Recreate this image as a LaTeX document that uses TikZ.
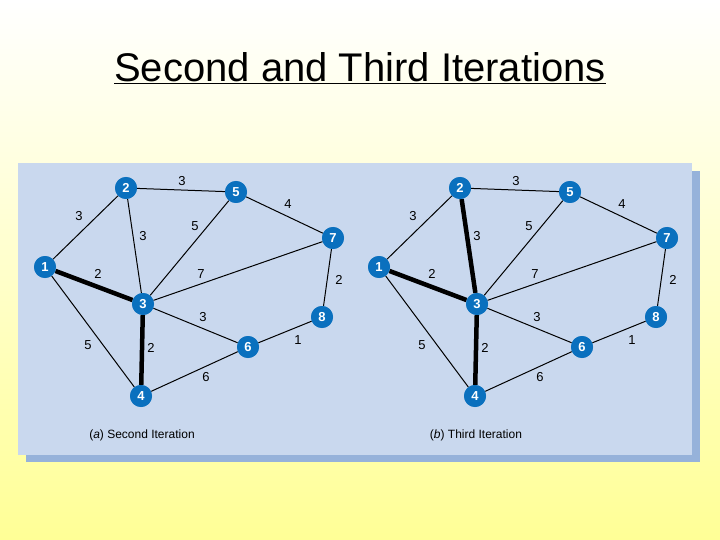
\documentclass[tikz,border=0pt]{standalone}
\usepackage{fontspec}
\setmainfont{Liberation Sans}
\definecolor{nodeblue}{RGB}{10,112,190}
\definecolor{panel}{RGB}{201,216,238}
\definecolor{shadowc}{RGB}{150,178,218}
\begin{document}
\begin{tikzpicture}[x=1pt,y=-1pt,
  vtx/.style={circle,fill=nodeblue,draw=none,minimum size=22pt,inner sep=0pt,text=white,font=\fontsize{13}{13}\selectfont\bfseries},
  edge/.style={line width=1pt},
  heavy/.style={line width=4.5pt},
  wlab/.style={font=\fontsize{13}{13}\selectfont}]
\shade[top color=white,bottom color={rgb,255:red,255;green,255;blue,150}] (0,0) rectangle (720,540);
\useasboundingbox (0,0) rectangle (720,540);
\node[font=\fontsize{40}{40}\selectfont] (title) at (360,68) {\underline{Second and Third Iterations}};
\fill[shadowc] (26,171) rectangle (700,462);
\fill[panel] (18,163) rectangle (692,455);
\foreach \dx/\pre/\cap in {0/a/{(\textit{a}) Second Iteration},334/b/{(\textit{b}) Third Iteration}}{
\begin{scope}[xshift=\dx]
\node[vtx] (\pre1) at (45,267) {1};
\node[vtx] (\pre2) at (126,188) {2};
\node[vtx] (\pre5) at (236,192) {5};
\node[vtx] (\pre7) at (333,238) {7};
\node[vtx] (\pre3) at (143,304) {3};
\node[vtx] (\pre8) at (322,317) {8};
\node[vtx] (\pre6) at (248,347) {6};
\node[vtx] (\pre4) at (141,396) {4};
\node[wlab] (\pre l12) at (79,216) {3};
\node[wlab] (\pre l25) at (182,181) {3};
\node[wlab] (\pre l23) at (143,236) {3};
\node[wlab] (\pre l35) at (195,226) {5};
\node[wlab] (\pre l57) at (288,204) {4};
\node[wlab] (\pre l13) at (98,274) {2};
\node[wlab] (\pre l37) at (201,274) {7};
\node[wlab] (\pre l78) at (339,280) {2};
\node[wlab] (\pre l36) at (203,317) {3};
\node[wlab] (\pre l14) at (88,345) {5};
\node[wlab] (\pre l34) at (151,348) {2};
\node[wlab] (\pre l68) at (298,340) {1};
\node[wlab] (\pre l46) at (206,377) {6};
\node[font=\fontsize{12}{12}\selectfont] (\pre cap) at (142,435) {\cap};
\end{scope}}
\foreach \p in {a,b}{
\draw[edge] (\p1) -- (\p2); \draw[edge] (\p2) -- (\p5); \draw[edge] (\p3) -- (\p5);
\draw[edge] (\p5) -- (\p7); \draw[edge] (\p3) -- (\p7); \draw[edge] (\p7) -- (\p8);
\draw[edge] (\p3) -- (\p6); \draw[edge] (\p1) -- (\p4); \draw[edge] (\p6) -- (\p8);
\draw[edge] (\p4) -- (\p6);
\draw[heavy] (\p1) -- (\p3); \draw[heavy] (\p3) -- (\p4);}
\draw[edge] (a2) -- (a3);
\draw[heavy] (b2) -- (b3);
\foreach \p in {a,b}{\foreach \n in {1,...,8}{\node[vtx] at (\p\n) {\n};}}
\end{tikzpicture}
\end{document}
